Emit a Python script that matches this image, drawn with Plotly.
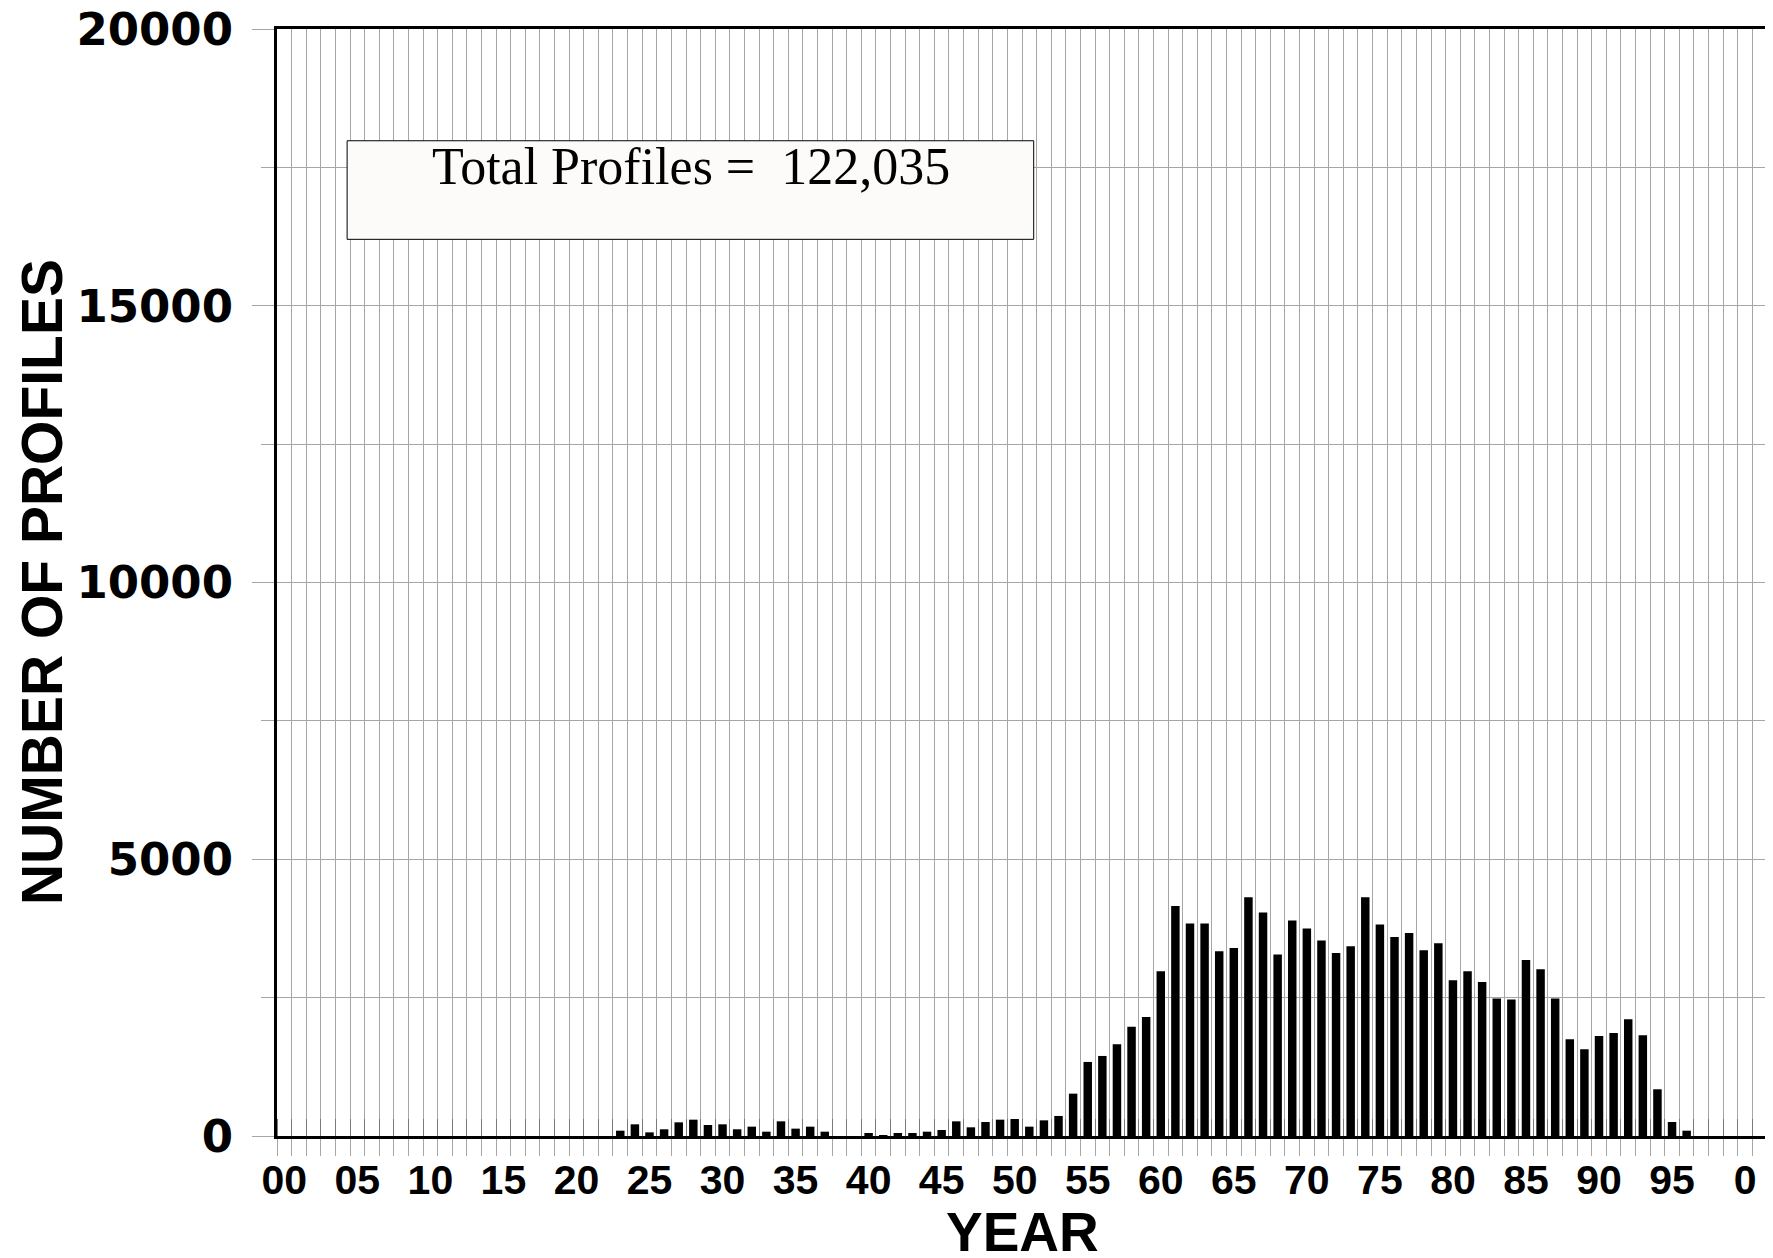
import plotly.graph_objects as go

years = list(range(1900, 2002))
profiles = (
    [0] * 23  # 1900-1922
    + [96, 211, 66, 121, 247, 295, 199, 211, 121, 169,   # 1923-1932
       78, 265, 133, 169, 78, 0, 0, 54, 15, 54,          # 1933-1942
       54, 78, 108, 265, 157, 253, 295, 307, 169, 283,   # 1943-1952
       362, 765, 1338, 1446, 1657, 1976, 2151, 2977,     # 1953-1960
       4157, 3838, 3838, 3338, 3398, 4314, 4037, 3278,   # 1961-1968
       3892, 3748, 3531, 3308, 3428, 4314, 3820, 3597,   # 1969-1976
       3669, 3356, 3484, 2814, 2977, 2784, 2482, 2465,   # 1977-1984
       3182, 3013, 2482, 1748, 1567, 1808, 1862, 2109,   # 1985-1992
       1820, 844, 253, 96]                               # 1993-1996
    + [0] * 5  # 1997-2001
)
tick_years = list(range(1900, 2001, 5))
tick_text = ["00", "05", "10", "15", "20", "25", "30", "35", "40", "45",
             "50", "55", "60", "65", "70", "75", "80", "85", "90", "95", "0"]
total_label = "Total Profiles =  122,035"

GRID = "#a6a6a6"
XR = [1899.5, 2001.5]

fig = go.Figure()
fig.add_trace(go.Bar(x=years, y=profiles, width=0.58,
                     marker=dict(color="black", line=dict(width=0))))
# dummy trace so the overlay axis (inner ticks) gets drawn
fig.add_trace(go.Scatter(x=[1950], y=[0], xaxis="x2", mode="markers",
                         marker=dict(opacity=0), hoverinfo="skip"))

# page body adds an 8px margin, so the figure is a bit smaller than the window
fig.update_layout(
    width=1765, height=1250,
    margin=dict(l=269, r=6, t=21, b=122),
    paper_bgcolor="white", plot_bgcolor="white",
    showlegend=False,
    font=dict(family="Liberation Sans, Arial", color="black"),
    xaxis=dict(
        range=XR, tickvals=tick_years, ticktext=tick_text, automargin=False,
        ticks="outside", ticklen=6, tickcolor="rgba(0,0,0,0)",
        tickfont=dict(size=41, family="Liberation Sans, Arial", weight="bold"),
        ticklabeloverflow="allow",
        showgrid=False, zeroline=False,
        showline=True, linecolor="black", linewidth=3, mirror=True,
        minor=dict(tick0=0.5, dtick=1, ticks="outside", ticklen=17,
                   tickcolor=GRID, showgrid=True, gridcolor=GRID, gridwidth=1),
    ),
    xaxis2=dict(
        range=XR, overlaying="x", side="bottom", showticklabels=False,
        showgrid=False, zeroline=False, showline=False, ticks="",
        automargin=False,
        minor=dict(tick0=0.5, dtick=1, ticks="inside", ticklen=17,
                   tickcolor="#7a7a7a", showgrid=False),
    ),
    yaxis=dict(
        range=[0, 20000], dtick=5000, tick0=0, tickformat="d",
        automargin=False, ticklabeloverflow="allow",
        ticks="outside", ticklen=22, tickcolor=GRID,
        tickfont=dict(size=45, family="DejaVu Sans", weight="bold"),
        ticklabelstandoff=10,
        showgrid=True, gridcolor=GRID, gridwidth=1, zeroline=False,
        showline=True, linecolor="black", linewidth=3, mirror=True,
        minor=dict(dtick=2500, ticks="outside", ticklen=13, tickcolor=GRID,
                   showgrid=True, gridcolor=GRID, gridwidth=1),
    ),
    shapes=[dict(type="rect", xref="x", yref="y",
                 x0=1904.3, x1=1951.3, y0=16200, y1=17981,
                 fillcolor="#fcfbf9", line=dict(color="black", width=1))],
    annotations=[
        dict(text=total_label, xref="x", yref="y", x=1910.0, y=17520,
             xanchor="left", yanchor="middle", showarrow=False,
             font=dict(family="Liberation Serif, Times New Roman", size=52)),
        dict(text="NUMBER OF PROFILES", xref="paper", yref="paper",
             x=-0.158, y=0.5, xanchor="center", yanchor="middle",
             textangle=-90, showarrow=False,
             font=dict(size=57, weight="bold")),
        dict(text="YEAR", xref="paper", yref="paper", x=0.5, y=-0.0867,
             xanchor="center", yanchor="middle", showarrow=False,
             font=dict(size=55, weight="bold")),
    ],
)

fig.write_html("out.html")
